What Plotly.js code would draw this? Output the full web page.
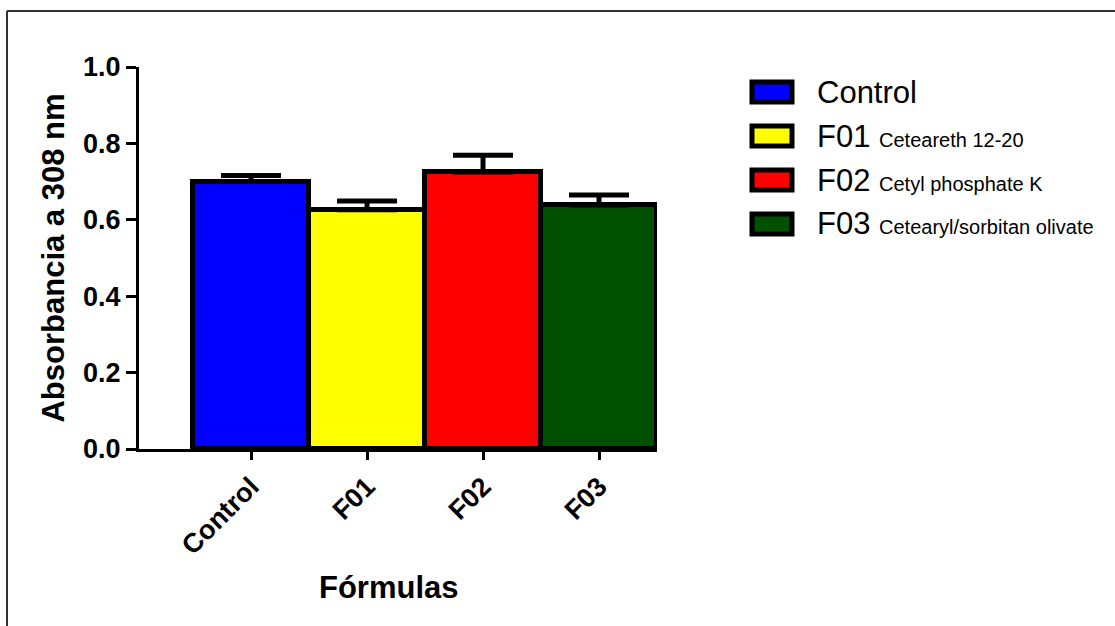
<!DOCTYPE html>
<html>
<head>
<meta charset="utf-8">
<script src="https://cdn.plot.ly/plotly-3.0.1.min.js"></script>
<style>
  html, body { margin: 0; padding: 0; background: #fff; }
  #chart { width: 1115px; height: 626px; }
</style>
</head>
<body>
<div id="chart"></div>
<script>
// Formulations and measured absorbance at 308 nm (mean and upper SEM)
const categories = ['Control', 'F01', 'F02', 'F03'];
const absorbance = [0.700, 0.626, 0.725, 0.639];
const errorUp = [0.016, 0.023, 0.044, 0.026];
const barColors = ['#0000ff', '#ffff00', '#ff0000', '#005000'];
const legendCodes = ['Control', 'F01', 'F02', 'F03'];
const legendNames = ['', 'Ceteareth 12-20', 'Cetyl phosphate K', 'Cetearyl/sorbitan olivate'];
const yTicks = [0, 0.2, 0.4, 0.6, 0.8, 1.0];
const xTitle = 'Fórmulas';
const yTitle = 'Absorbancia a 308 nm';

const W = 1115, H = 626;
const M = { l: 139, r: 458, t: 67, b: 177 };
const plotW = W - M.l - M.r, plotH = H - M.t - M.b;
// pixel -> paper coordinate helpers for the legend block, x title and frame
const px = x => (x - M.l) / plotW;
const py = y => (H - M.b - y) / plotH;

const font = 'Arial, "Liberation Sans", sans-serif';

const trace = {
  type: 'bar',
  x: categories,
  y: absorbance,
  marker: { color: barColors, line: { color: '#000', width: 5 } },
  error_y: {
    type: 'data', symmetric: false, array: errorUp,
    arrayminus: errorUp.map(() => 0),
    color: '#000', thickness: 5, width: 30
  },
  showlegend: false,
  hoverinfo: 'x+y'
};

const shapes = [];
const annotations = [];

// legend swatches and labels
const rowY = [92, 136, 180, 224];
legendCodes.forEach((code, i) => {
  shapes.push({
    type: 'rect', xref: 'paper', yref: 'paper',
    x0: px(752), x1: px(792), y0: py(rowY[i] - 10), y1: py(rowY[i] + 10),
    fillcolor: barColors[i], line: { color: '#000', width: 5 }
  });
  const label = legendNames[i]
    ? code + ' <span style="font-size:20px">' + legendNames[i] + '</span>'
    : code;
  annotations.push({
    xref: 'paper', yref: 'paper', x: px(815), y: py(rowY[i]),
    xanchor: 'left', yanchor: 'middle', showarrow: false,
    text: label, font: { family: font, size: 31, color: '#000' }
  });
});

// x-axis title
annotations.push({
  xref: 'paper', yref: 'paper', x: px(389), y: py(587),
  xanchor: 'center', yanchor: 'middle', showarrow: false,
  text: '<b>' + xTitle + '</b>', font: { family: font, size: 31, color: '#000' }
});

// outer frame (top and left edges)
shapes.push({
  type: 'line', xref: 'paper', yref: 'paper',
  x0: px(7), x1: px(W + 5), y0: py(11), y1: py(11),
  line: { color: '#333', width: 2 }
});
shapes.push({
  type: 'line', xref: 'paper', yref: 'paper',
  x0: px(7), x1: px(7), y0: py(11), y1: py(H + 5),
  line: { color: '#333', width: 2 }
});

const layout = {
  width: W, height: H,
  margin: M,
  paper_bgcolor: '#fff', plot_bgcolor: '#fff',
  bargap: 0,
  showlegend: false,
  font: { family: font, color: '#000' },
  xaxis: {
    type: 'category',
    range: [-0.966, 3.5],
    showline: true, linecolor: '#000', linewidth: 3,
    ticks: 'outside', ticklen: 8, tickwidth: 3, tickcolor: '#000',
    tickangle: -45,
    tickfont: { family: font, size: 27, color: '#000', weight: 'bold' },
    showgrid: false, zeroline: false,
    automargin: false
  },
  yaxis: {
    range: [0, 1.0],
    tickvals: yTicks,
    ticktext: yTicks.map(v => v.toFixed(1)),
    showline: true, linecolor: '#000', linewidth: 3,
    ticks: 'outside', ticklen: 10, tickwidth: 3, tickcolor: '#000',
    tickfont: { family: font, size: 27, color: '#000', weight: 'bold' },
    showgrid: false, zeroline: false,
    title: { text: '<b>' + yTitle + '</b>', font: { family: font, size: 31, color: '#000' }, standoff: 10 },
    automargin: false
  },
  shapes: shapes,
  annotations: annotations
};

Plotly.newPlot('chart', [trace], layout, { displayModeBar: false, responsive: false });
</script>
</body>
</html>
